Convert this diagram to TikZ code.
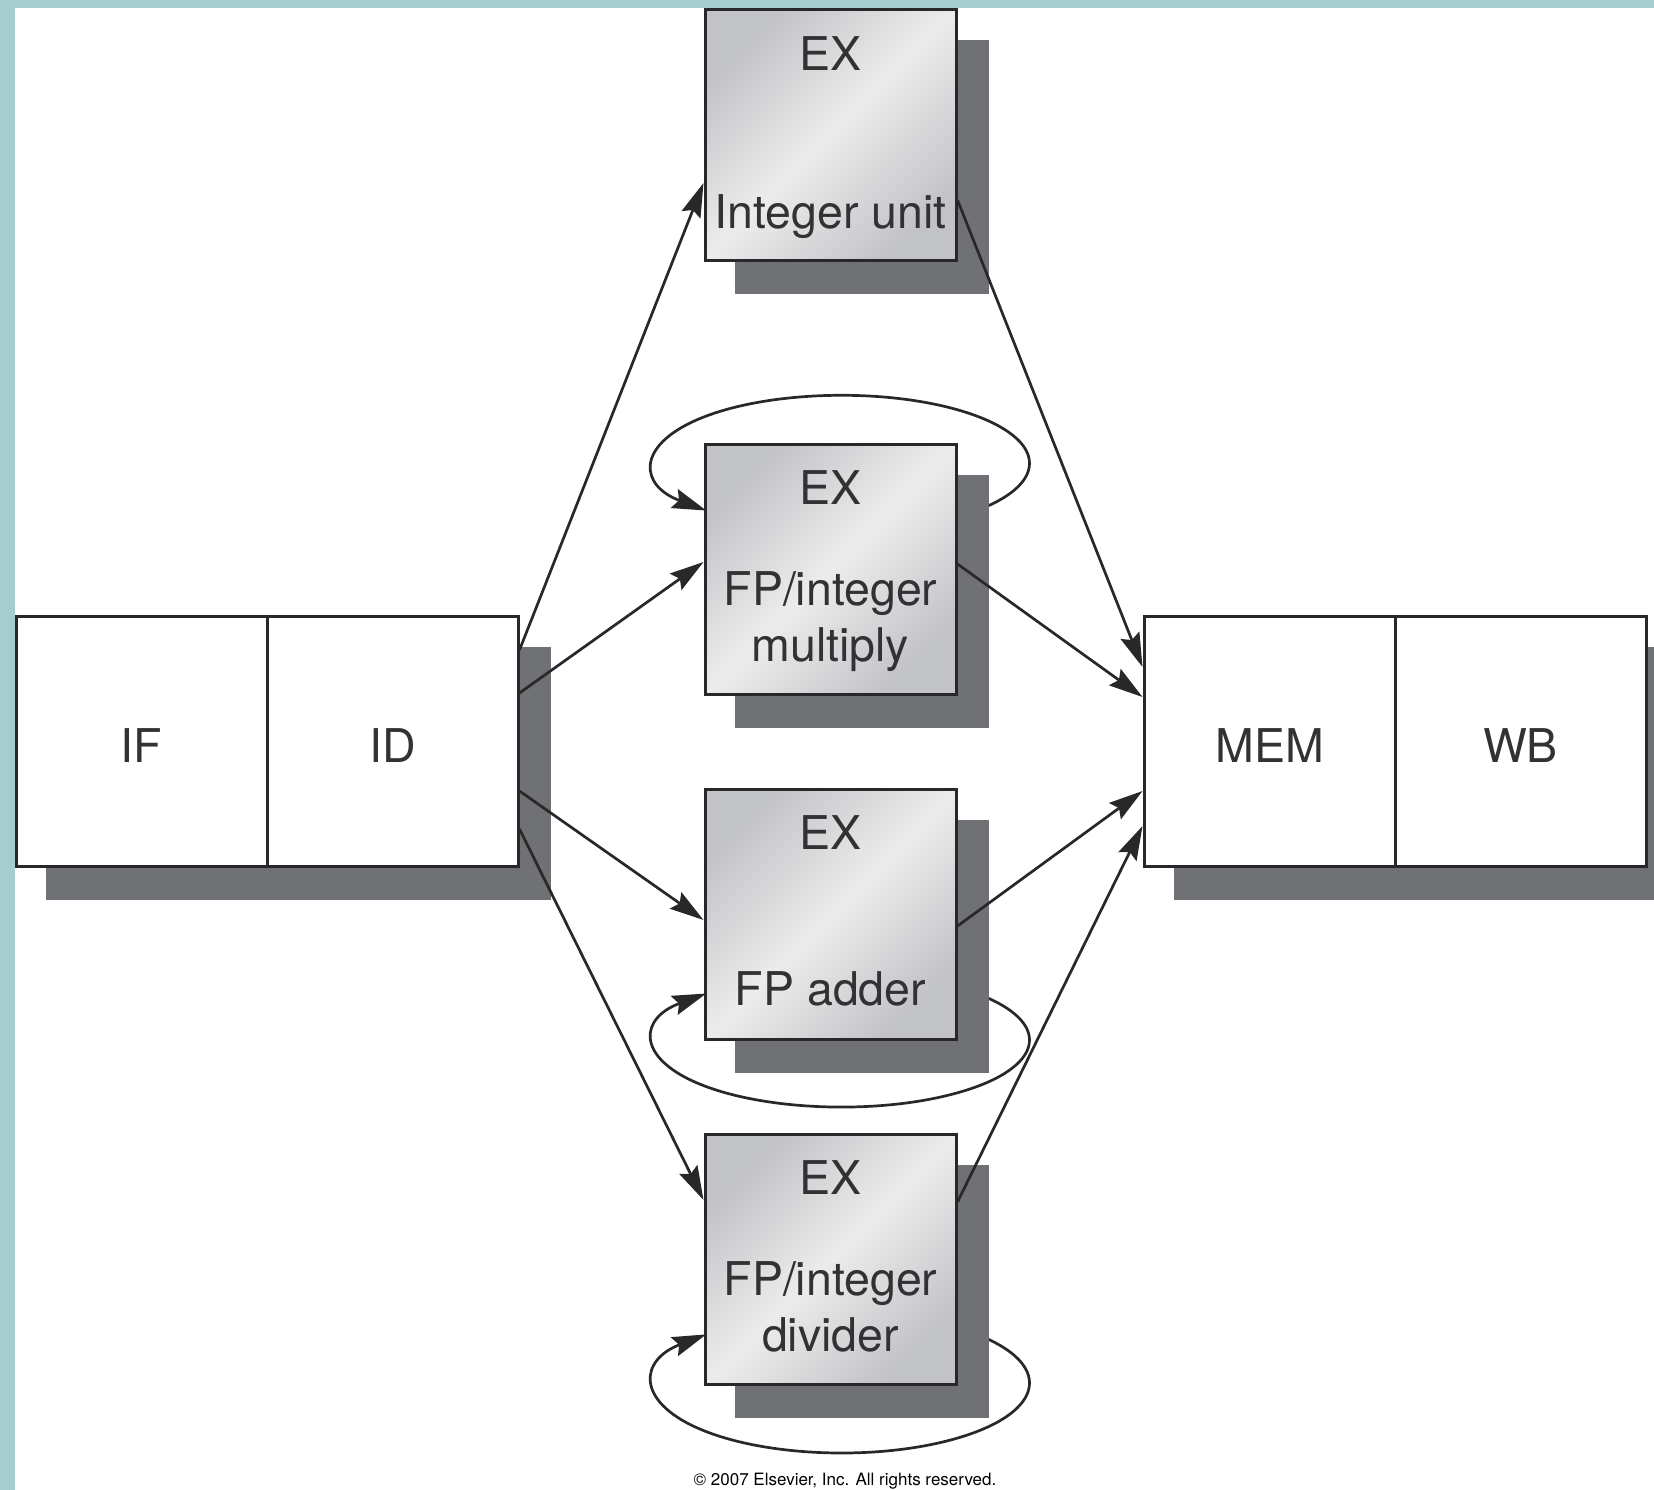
\documentclass[tikz,border=0pt]{standalone}
\usepackage{fontspec}
\setmainfont{TeX Gyre Heros}
\usetikzlibrary{arrows.meta}

\definecolor{framec}{RGB}{166,204,206}
\definecolor{ink}{RGB}{40,40,42}
\definecolor{textc}{RGB}{50,50,52}
\definecolor{shadowc}{RGB}{112,113,116}
\definecolor{exdark}{RGB}{194,195,197}
\definecolor{exlight}{RGB}{236,236,237}

\pgfdeclarelayer{paperlayer}
\pgfdeclarelayer{looplayer}
\pgfdeclarelayer{shadowlayer}
\pgfsetlayers{paperlayer,looplayer,shadowlayer,main}

\begin{document}
\begin{tikzpicture}[x=1pt,y=-1pt,
  stage/.style={draw=ink, line width=3pt, fill=white,
    minimum width=251pt, minimum height=250pt, inner sep=0pt,
    text height=43pt, text depth=0pt,
    font=\fontsize{46.5}{56}\selectfont, text=textc},
  unit/.style={draw=ink, line width=3pt,
    minimum width=251pt, minimum height=250pt, inner sep=0pt,
    top color=exdark, bottom color=exdark, middle color=exlight,
    shading angle=45},
  lbl/.style={anchor=base, inner sep=0pt,
    font=\fontsize{46.5}{56}\selectfont, text=textc},
  flow/.style={draw=ink, line width=2.7pt,
    -{Stealth[length=34pt,width=20pt,inset=5pt]}},
  shadowbox/.style={fill=shadowc}
]
\useasboundingbox (0,0) rectangle (1654,1490);

% page with its tinted frame
\begin{pgfonlayer}{paperlayer}
  \fill[framec] (0,0) rectangle (1654,1490);
  \fill[white] (15,8) rectangle (1654,1490);
\end{pgfonlayer}

% pipeline stages
\node[stage] (if)  at (141.5,741)  {IF};
\node[stage] (id)  at (392.5,741)  {ID};
\node[stage] (mem) at (1269.5,741) {MEM};
\node[stage] (wb)  at (1520.5,741) {WB};

% execution units
\node[unit] (int) at (830.5,135)  {};
\node[unit] (mul) at (830.5,569)  {};
\node[unit] (add) at (830.5,914)  {};
\node[unit] (div) at (830.5,1259) {};

\node[lbl] (int-ex)   at ([yshift=-62pt]int.north)  {EX};
\node[lbl] (int-name) at ([yshift=-220pt]int.north) {Integer unit};

\node[lbl] (mul-ex)    at ([yshift=-62pt]mul.north)  {EX};
\node[lbl] (mul-name)  at ([yshift=-163pt]mul.north) {FP/integer};
\node[lbl] (mul-name2) at ([yshift=-219pt]mul.north) {multiply};

\node[lbl] (add-ex)   at ([yshift=-62pt]add.north)  {EX};
\node[lbl] (add-name) at ([yshift=-218pt]add.north) {FP adder};

\node[lbl] (div-ex)    at ([yshift=-62pt]div.north)  {EX};
\node[lbl] (div-name)  at ([yshift=-163pt]div.north) {FP/integer};
\node[lbl] (div-name2) at ([yshift=-219pt]div.north) {divider};

% drop shadows
\begin{pgfonlayer}{shadowlayer}
  \foreach \n in {int,mul,add,div}
    \fill[shadowbox] ([shift={(31pt,-32pt)}]\n.north west)
                rectangle ([shift={(31pt,-32pt)}]\n.south east);
  \fill[shadowbox] ([shift={(31pt,-32pt)}]if.north west)
              rectangle ([shift={(31pt,-32pt)}]id.south east);
  \fill[shadowbox] ([shift={(31pt,-32pt)}]mem.north west)
              rectangle ([shift={(31pt,-32pt)}]wb.south east);
\end{pgfonlayer}

% recirculation loops of the multi-cycle units
\begin{pgfonlayer}{looplayer}
  \draw[flow] ([shift={(28pt,62pt)}]mul.east)
    arc[start angle=40, end angle=-224, x radius=188, y radius=68];
  \draw[flow] ([shift={(28pt,-83pt)}]add.east)
    arc[start angle=-40, end angle=224, x radius=188, y radius=67];
  \draw[flow] ([shift={(28pt,-79pt)}]div.east)
    arc[start angle=-40, end angle=224, x radius=188, y radius=70];
\end{pgfonlayer}

% issue from ID
\draw[flow] ([yshift=91pt]id.east)  -- ([yshift=-48pt]int.west);
\draw[flow] ([yshift=48pt]id.east)  -- ([yshift=7pt]mul.west);
\draw[flow] ([yshift=-50pt]id.east) -- ([yshift=-6pt]add.west);
\draw[flow] ([yshift=-88pt]id.east) -- ([yshift=59pt]div.west);

% results into MEM
\draw[flow] ([yshift=-65pt]int.east) -- ([yshift=74pt]mem.west);
\draw[flow] ([yshift=5pt]mul.east)   -- ([yshift=44pt]mem.west);
\draw[flow] ([yshift=-12pt]add.east) -- ([yshift=-50pt]mem.west);
\draw[flow] ([yshift=57pt]div.east)  -- ([yshift=-85pt]mem.west);

\node[anchor=base, inner sep=0pt, font=\fontsize{17}{20}\selectfont, text=black]
  (copyright) at (845,1485) {© 2007 Elsevier, Inc. All rights reserved.};
\end{tikzpicture}
\end{document}
